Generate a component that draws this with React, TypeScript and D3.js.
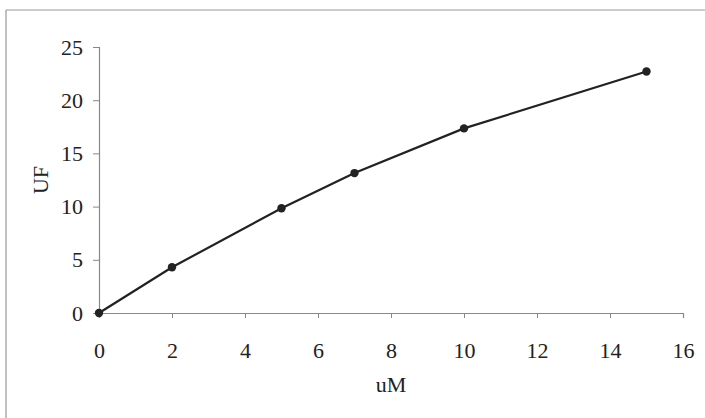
import React, { useEffect, useRef } from "react";
import * as d3 from "d3";

const width = 705;
const height = 418;
const margin = { top: 47, right: 22, bottom: 105, left: 99 };

const concentrations = [0, 2, 5, 7, 10, 15];
const fluorescence = [0, 4.3, 9.85, 13.15, 17.35, 22.7];
const xTicks = [0, 2, 4, 6, 8, 10, 12, 14, 16];
const yTicks = [0, 5, 10, 15, 20, 25];

const ink = "#222";
const axisGray = "#888";
const serif = "'Liberation Serif', 'Times New Roman', serif";

export default function App() {
  const xAxisRef = useRef<SVGGElement>(null);
  const yAxisRef = useRef<SVGGElement>(null);

  const xScale = d3.scaleLinear().domain([0, 16]).range([margin.left, width - margin.right]);
  const yScale = d3.scaleLinear().domain([0, 25]).range([height - margin.bottom, margin.top]);

  const points = concentrations.map((c, i) => ({ x: c, y: fluorescence[i] }));
  const line = d3
    .line<{ x: number; y: number }>()
    .x(d => xScale(d.x))
    .y(d => yScale(d.y));

  useEffect(() => {
    const xAxis = d3.axisBottom(xScale).tickValues(xTicks).tickSize(5).tickPadding(24).tickFormat(d => `${d}`);
    const yAxis = d3.axisLeft(yScale).tickValues(yTicks).tickSize(6).tickPadding(10).tickFormat(d => `${d}`);
    const gx = d3.select(xAxisRef.current!).call(xAxis);
    const gy = d3.select(yAxisRef.current!).call(yAxis);
    [gx, gy].forEach(g => {
      g.attr("font-size", null).attr("font-family", null);
      g.select(".domain").attr("stroke", axisGray).attr("stroke-width", 1.2);
      g.selectAll(".tick line").attr("stroke", axisGray);
      g.selectAll(".tick text")
        .attr("fill", ink)
        .attr("font-family", serif)
        .attr("font-size", 22);
    });
  }, []);

  return (
    <svg
      width={width}
      height={height}
      style={{ position: "absolute", left: 0, top: 0, background: "#fff" }}
    >
      {/* frame */}
      <line x1={6} y1={10} x2={width} y2={10} stroke="#999" strokeWidth={1.2} />
      <line x1={6} y1={10} x2={6} y2={height} stroke="#999" strokeWidth={1.2} />

      <g ref={xAxisRef} transform={`translate(0, ${height - margin.bottom})`} />
      <g ref={yAxisRef} transform={`translate(${margin.left}, 0)`} />

      <path d={line(points) ?? ""} fill="none" stroke={ink} strokeWidth={2.2} />
      {points.map((p, i) => (
        <circle key={i} cx={xScale(p.x)} cy={yScale(p.y)} r={4.2} fill={ink} />
      ))}

      <text
        x={391}
        y={392}
        textAnchor="middle"
        fontFamily={serif}
        fontSize={22}
        fill={ink}
      >
        uM
      </text>
      <text
        transform={`translate(48, ${(margin.top + height - margin.bottom) / 2}) rotate(-90)`}
        textAnchor="middle"
        fontFamily={serif}
        fontSize={22}
        fill={ink}
      >
        UF
      </text>
    </svg>
  );
}
